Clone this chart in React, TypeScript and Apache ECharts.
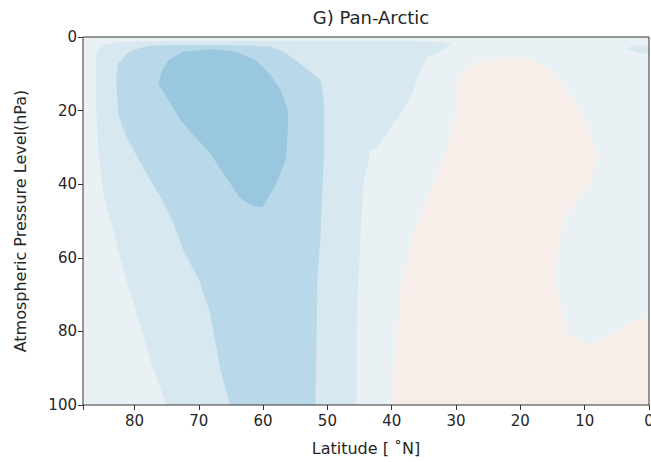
import React, { useEffect, useRef } from "react";
import * as echarts from "echarts";

// Axis ticks and limits
const latitudeTicks = [80, 70, 60, 50, 40, 30, 20, 10, 0];
const pressureTicks = [0, 20, 40, 60, 80, 100];
const latitudeRange = [0, 88];
const pressureRange = [0, 100];

// Contour fill colours
const colorLevel0 = "#e9f1f4"; // background band (weak negative)
const colorLevel1 = "#d7e8f1";
const colorLevel2 = "#b9d8e9";
const colorLevel3 = "#98c7de";
const colorPositive = "#f7eee9";

// Contour region outlines as [latitude °N, pressure hPa]
const positiveRegion: [number, number][] = [
  [40.1, 100], [38.4, 66.0], [36.6, 53.3], [34.5, 44.3], [31.4, 30.7], [30.9, 27.2],
  [29.8, 18.2], [29.6, 11.5], [28.3, 8.2], [25.8, 6.3], [22.0, 5.4], [18.0, 6.3],
  [15.4, 9.0], [12.7, 14.4], [10.2, 21.7], [8.1, 31.8], [8.1, 33.4], [9.2, 39.7],
  [13.4, 49.7], [14.3, 59.8], [14.6, 66.0], [13.5, 75.0], [12.7, 80.4], [9.6, 83.7],
  [6.5, 81.5], [2.5, 76.9], [0, 76.4], [0, 100],
];

const level1Region: [number, number][] = [
  [86.0, 6.3], [85.7, 3.5], [84.8, 2.2], [82.8, 1.4], [69.9, 1.1], [54.3, 1.1],
  [38.8, 1.1], [32.5, 1.4], [30.9, 1.9], [32.5, 4.1], [34.5, 5.4], [35.6, 9.0],
  [36.6, 14.4], [38.2, 19.8], [40.2, 24.5], [42.2, 29.9], [43.3, 30.7], [44.4, 39.7],
  [44.9, 53.3], [45.2, 66.0], [45.5, 79.6], [45.5, 100], [75.0, 100], [77.5, 87.8],
  [79.8, 74.2], [81.2, 66.0], [82.5, 57.9], [83.7, 49.7], [84.8, 42.4], [85.6, 30.7],
  [85.9, 20.0], [86.0, 11.7],
];

const level2Region: [number, number][] = [
  [82.8, 11.7], [82.5, 7.3], [81.2, 4.6], [79.7, 3.3], [77.5, 2.4], [69.9, 2.2],
  [62.0, 2.4], [58.9, 2.7], [56.8, 4.1], [54.3, 7.3], [51.1, 11.7], [50.6, 17.1],
  [50.6, 32.6], [51.1, 53.3], [51.6, 66.0], [51.9, 100], [65.1, 100], [66.6, 90.5],
  [68.2, 75.0], [69.9, 66.0], [72.4, 57.9], [73.9, 50.5], [75.8, 43.8], [78.1, 37.0],
  [80.1, 30.7], [81.2, 27.2], [82.5, 20.9],
];

const level3Region: [number, number][] = [
  [76.2, 12.8], [75.8, 9.5], [74.7, 6.3], [72.4, 4.1], [68.2, 3.3], [64.3, 4.1],
  [61.2, 6.3], [58.9, 10.3], [57.3, 14.4], [56.2, 19.8], [56.2, 25.3], [56.5, 33.4],
  [58.1, 40.2], [60.1, 46.2], [61.6, 45.7], [63.5, 43.8], [65.8, 38.0], [68.2, 31.5],
  [70.5, 27.2], [72.8, 22.6], [74.7, 17.1],
];

const cornerLevel1Region: [number, number][] = [
  [3.3, 3.0], [2.0, 2.4], [0, 2.5], [0, 4.5], [1.5, 4.3], [3.0, 3.6],
];

export default function App() {
  const ref = useRef<HTMLDivElement>(null);

  useEffect(() => {
    if (!ref.current) return;
    const chart = echarts.init(ref.current, null, { renderer: "svg" });

    const regions = [
      { color: colorPositive, points: positiveRegion },
      { color: colorLevel1, points: level1Region },
      { color: colorLevel2, points: level2Region },
      { color: colorLevel3, points: level3Region },
      { color: colorLevel1, points: cornerLevel1Region },
    ];

    const font = "DejaVu Sans";
    const textColor = "#262626";

    chart.setOption({
      animation: false,
      backgroundColor: "#ffffff",
      title: {
        text: "G) Pan-Arctic",
        left: 366,
        textAlign: "center",
        top: 3,
        textStyle: { fontFamily: font, fontSize: 18, fontWeight: "normal", color: textColor },
      },
      grid: {
        left: 83,
        right: 2,
        top: 37,
        bottom: 57,
        show: true,
        backgroundColor: colorLevel0,
        borderWidth: 0,
        containLabel: false,
        outerBoundsMode: "none",
      },
      xAxis: {
        type: "value",
        min: latitudeRange[0],
        max: latitudeRange[1],
        interval: 10,
        inverse: true,
        name: "Latitude [ ˚N]",
        nameLocation: "middle",
        nameGap: 35,
        nameTextStyle: { fontFamily: font, fontSize: 16, color: textColor },
        axisLine: { show: false, onZero: false },
        axisTick: { show: true, length: 5, lineStyle: { color: "#333" } },
        axisLabel: {
          fontFamily: font,
          fontSize: 15,
          color: textColor,
          margin: 8,
          formatter: (v: number) => (latitudeTicks.includes(v) ? String(v) : ""),
        },
        splitLine: { show: false },
      },
      yAxis: {
        type: "value",
        min: pressureRange[0],
        max: pressureRange[1],
        interval: 20,
        inverse: true,
        name: "Atmospheric Pressure Level(hPa)",
        nameLocation: "middle",
        nameGap: 55,
        nameTextStyle: { fontFamily: font, fontSize: 16, color: textColor },
        axisLine: { show: false, onZero: false },
        axisTick: { show: true, length: 5, lineStyle: { color: "#333" } },
        axisLabel: {
          fontFamily: font,
          fontSize: 15,
          color: textColor,
          margin: 6,
          formatter: (v: number) => (pressureTicks.includes(v) ? String(v) : ""),
        },
        splitLine: { show: false },
      },
      series: [
        {
          type: "custom",
          coordinateSystem: "cartesian2d",
          clip: true,
          data: regions.map((r) => r.points[0]),
          renderItem: (params: any, api: any) => {
            const r = regions[params.dataIndex];
            const pts = r.points.map((p) => api.coord(p));
            return {
              type: "polygon",
              shape: { points: pts, smooth: 0 },
              style: { fill: r.color, stroke: r.color, lineWidth: 0.5 },
            };
          },
          z: 1,
        },
        {
          // plot frame (spines) drawn from the axis limits
          type: "custom",
          coordinateSystem: "cartesian2d",
          clip: false,
          silent: true,
          data: [[latitudeRange[1], pressureRange[0]]],
          renderItem: (params: any, api: any) => {
            const tl = api.coord([latitudeRange[1], pressureRange[0]]);
            const br = api.coord([latitudeRange[0], pressureRange[1]]);
            return {
              type: "rect",
              shape: { x: tl[0], y: tl[1], width: br[0] - tl[0], height: br[1] - tl[1] },
              style: { fill: "none", stroke: "#333", lineWidth: 1 },
            };
          },
          z: 5,
        },
      ],
    });

    return () => chart.dispose();
  }, []);

  return <div ref={ref} style={{ width: 651, height: 462, position: "absolute", left: 0, top: 0 }} />;
}
